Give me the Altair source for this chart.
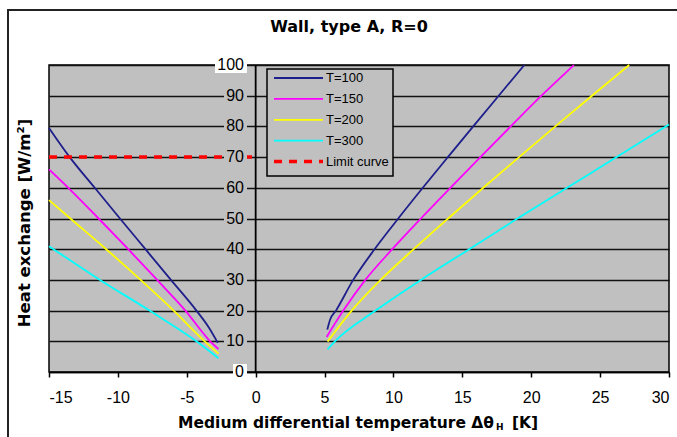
import altair as alt
import pandas as pd

# ---- series definitions -------------------------------------------------
series = ["T=100", "T=150", "T=200", "T=300"]
colors = ["#1f1f8c", "#ff00ff", "#ffff00", "#00ffff"]

# negative branch (cooling side) and positive branch (heating side)
t100_left_x = [-15, -13.5, -11.68, -9.85, -8.0, -6.15, -4.3, -3.4, -2.75]
t100_left_y = [79.5, 70, 60, 50, 40, 30, 20, 14.5, 9.5]
t100_right_x = [5.2, 5.4, 5.83, 7.08, 8.63, 10.35, 12.13, 13.95, 15.79, 17.64, 19.5]
t100_right_y = [13.8, 17, 20, 30, 40, 50, 60, 70, 80, 90, 100]

t150_left_x = [-15, -13.6, -11.4, -9.25, -7.15, -5.1, -3.3, -2.7]
t150_left_y = [66, 60, 50, 40, 30, 20, 10, 7.5]
t150_right_x = [5.15, 6.36, 7.96, 9.91, 11.99, 14.13, 16.31, 18.51, 20.74, 23.1]
t150_right_y = [11.4, 20, 30, 40, 50, 60, 70, 80, 90, 100]

t200_left_x = [-15, -13.45, -10.85, -8.35, -5.95, -3.7, -2.7]
t200_left_y = [56, 50, 40, 30, 20, 10, 6]
t200_right_x = [5.22, 6.97, 9.07, 11.47, 13.97, 16.52, 19.12, 21.75, 24.41, 27.11]
t200_right_y = [9.9, 20, 30, 40, 50, 60, 70, 80, 90, 100]

t300_left_x = [-15, -11.3, -7.7, -4.3, -2.7]
t300_left_y = [41, 30, 20, 10, 4.5]
t300_right_x = [5.22, 5.75, 8.7, 12.0, 15.5, 19.0, 22.6, 26.2, 30]
t300_right_y = [7.4, 10, 20, 30, 40, 50, 60, 70, 80.6]

limit_x = [-15, 0]
limit_y = [70, 70]

x_ticks = [-15, -10, -5, 0, 5, 10, 15, 20, 25, 30]
y_ticks = [0, 10, 20, 30, 40, 50, 60, 70, 80, 90, 100]

legend_labels = ["T=100", "T=150", "T=200", "T=300", "Limit curve"]

# ---- tables -------------------------------------------------------------
branches = [
    ("T=100", "L", t100_left_x, t100_left_y), ("T=100", "R", t100_right_x, t100_right_y),
    ("T=150", "L", t150_left_x, t150_left_y), ("T=150", "R", t150_right_x, t150_right_y),
    ("T=200", "L", t200_left_x, t200_left_y), ("T=200", "R", t200_right_x, t200_right_y),
    ("T=300", "L", t300_left_x, t300_left_y), ("T=300", "R", t300_right_x, t300_right_y),
]
rows = []
for name, side, xs_, ys_ in branches:
    for i, (xv, yv) in enumerate(zip(xs_, ys_)):
        rows.append({"series": name, "branch": name + side, "x": xv, "y": yv, "i": i})
curves = pd.DataFrame(rows)
limit = pd.DataFrame({"x": limit_x, "y": limit_y})

FONT = "Liberation Sans"
BOLD = "DejaVu Sans"
GRAY = "#c0c0c0"
W, H = 620, 307
XMIN, XMAX, YMIN, YMAX = -15, 30, 0, 100

yt = pd.DataFrame({"v": y_ticks, "label": [str(v) for v in y_ticks]})
yt["bg"] = [("#ffffff" if v in (0, 100) else GRAY) for v in y_ticks]
leg = pd.DataFrame({"label": legend_labels, "k": range(len(legend_labels))})

xs = alt.Scale(domain=[XMIN, XMAX], nice=False, zero=False)
ys = alt.Scale(domain=[YMIN, YMAX], nice=False)
col = alt.Color("series:N", scale=alt.Scale(domain=series, range=colors), legend=None)

x_axis = alt.Axis(
    values=x_ticks, grid=False, title=None, domainColor="#000", domainWidth=1.5,
    tickColor="#000", tickSize=5, tickWidth=1.5, labelFont=FONT, labelFontSize=16,
    labelColor="#000", labelPadding=12, labelExpr="toString(datum.value)")
y_axis = alt.Axis(
    values=y_ticks, grid=True, gridColor="#111", gridWidth=1.7, domain=False,
    ticks=False, labels=False, title=None)


def X(field):
    return alt.X(field, scale=xs, axis=x_axis)


def Y(field):
    return alt.Y(field, scale=ys, axis=y_axis)


# pixel offsets inside the plot -> data units (for decorations placed by pixel)
def px_x(expr):
    return f"{XMIN} + ({expr}) * {(XMAX - XMIN) / W}"


def px_y(expr):
    return f"{YMAX} - ({expr}) * {(YMAX - YMIN) / H}"


# outer frame around the whole figure
frame = alt.Chart(pd.DataFrame({"a": [0]})).mark_rect(
    fillOpacity=0, stroke="#222", strokeWidth=2
).encode(x=alt.value(-41), x2=alt.value(660), y=alt.value(-55), y2=alt.value(420))

zero_rule = alt.Chart(pd.DataFrame({"x": [0], "y": [0], "y2": [100]})).mark_rule(
    color="#000", strokeWidth=1.8
).encode(x=X("x:Q"), y=Y("y:Q"), y2="y2:Q")

lines = alt.Chart(curves).mark_line(strokeWidth=1.8, interpolate="monotone").encode(
    x=X("x:Q"), y=Y("y:Q"), color=col, detail="branch:N", order="i:Q")

limit_line = alt.Chart(limit).mark_line(
    color="#ff0000", strokeWidth=3.5, strokeDash=[8, 7]
).encode(x=X("x:Q"), y=Y("y:Q"))

# y tick labels sitting on the zero axis, each on its own small backing box
label_bg = alt.Chart(yt).transform_calculate(
    lo="datum.v - 2.6", hi="datum.v + 2.6",
    left=px_x("196 - length(datum.label) * 9 - 3"), right=px_x("198"),
).mark_rect().encode(
    x=X("left:Q"), x2="right:Q", y=Y("lo:Q"), y2="hi:Q",
    fill=alt.Fill("bg:N", scale=None),
)
label_txt = alt.Chart(yt).mark_text(
    align="right", baseline="middle", font=FONT, fontSize=16, color="#000"
).encode(x=alt.value(195), y=Y("v:Q"), text="label:N")

# legend box
leg_box = alt.Chart(pd.DataFrame({"a": [0]})).mark_rect(
    fill=GRAY, stroke="#000", strokeWidth=1.5
).encode(x=alt.value(218), x2=alt.value(344), y=alt.value(4), y2=alt.value(111))

row_y = px_y("13 + datum.k * 20.9")
leg_series = leg[leg["k"] < 4].assign(series=lambda d: d["label"])
leg_lines = alt.Chart(leg_series).transform_calculate(py=row_y).mark_rule(strokeWidth=1.8).encode(
    x=alt.value(225), x2=alt.value(274), y=Y("py:Q"), color=col)
leg_limit = alt.Chart(leg[leg["k"] == 4]).transform_calculate(py=row_y).mark_rule(
    color="#ff0000", strokeWidth=3.5, strokeDash=[8, 7]
).encode(x=alt.value(225), x2=alt.value(274), y=Y("py:Q"))
leg_text = alt.Chart(leg).transform_calculate(py=row_y).mark_text(
    align="left", baseline="middle", font=FONT, fontSize=13, color="#000"
).encode(x=alt.value(277), y=Y("py:Q"), text="label:N")


# titles
def txt(s, x, y, size, **kw):
    return alt.Chart(pd.DataFrame({"t": [s]})).mark_text(
        font=BOLD, fontWeight="bold", fontSize=size, color="#000", **kw
    ).encode(x=alt.value(x), y=alt.value(y), text="t:N")


title = txt("Wall, type A, R=0", 300, -38, 16, align="center", baseline="middle")
ytitle = txt("Heat exchange [W/m²]", -24, 158, 16.5, align="center", baseline="middle", angle=270)
xt1 = txt("Medium differential temperature Δθ", 445, 358, 15.5, align="right", baseline="middle")
xt2 = txt("H", 447, 362, 9, align="left", baseline="middle")
xt3 = txt("[K]", 463, 358, 15.5, align="left", baseline="middle")

chart = alt.layer(
    frame, zero_rule, lines, limit_line, label_bg, label_txt,
    leg_box, leg_lines, leg_limit, leg_text, title, ytitle, xt1, xt2, xt3
).properties(
    width=W, height=H,
    autosize=alt.AutoSizeParams(type="none"),
    padding={"left": 49, "top": 65, "right": 8, "bottom": 65},
    background="#ffffff",
).configure_view(fill=GRAY, stroke="#000", strokeWidth=1.5)

chart.save("out.html", embed_options={"renderer": "svg", "actions": False})
